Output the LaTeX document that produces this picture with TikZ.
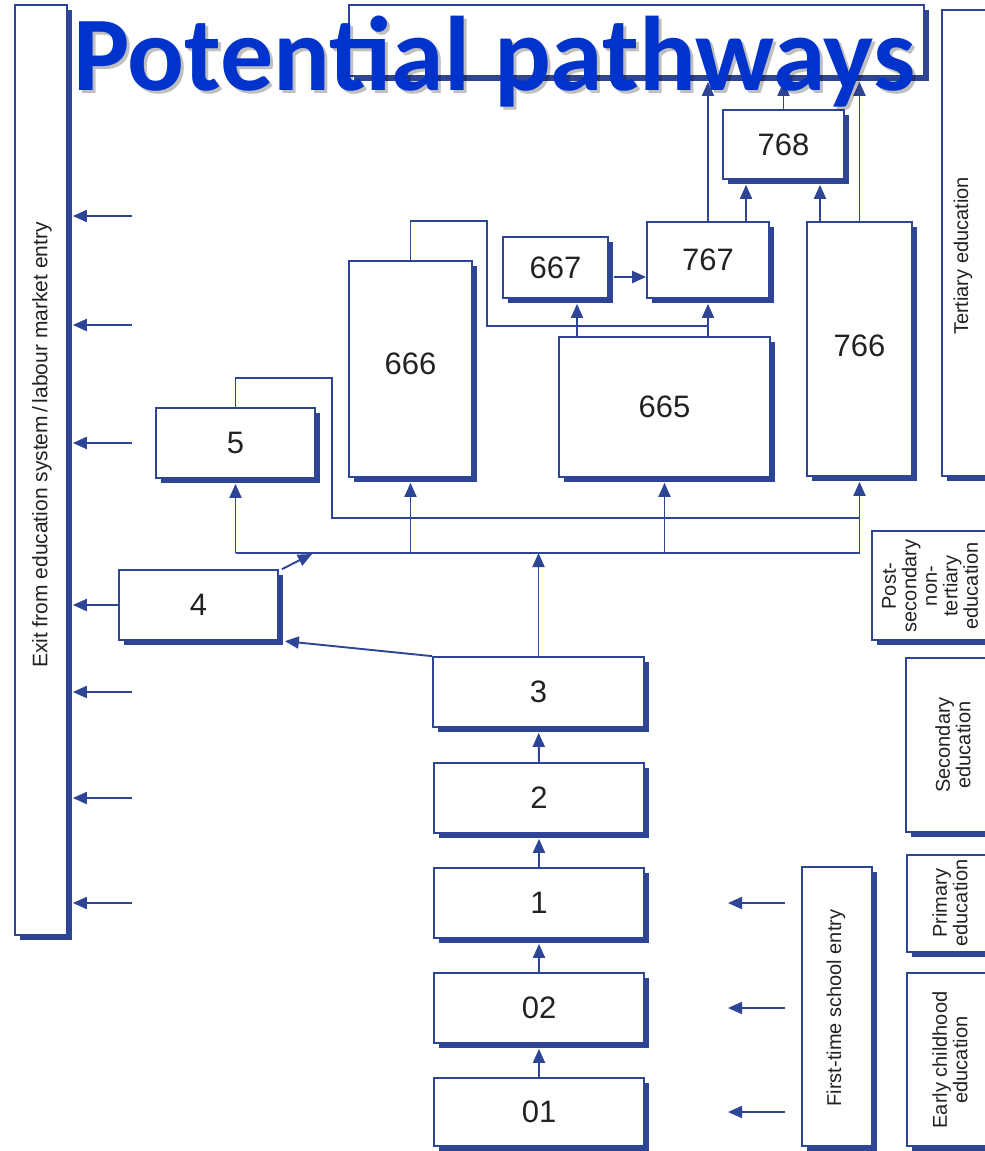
\documentclass[tikz,border=0pt]{standalone}
\usepackage{fontspec}
\setmainfont{Liberation Sans}
\newfontfamily\titlefam{Carlito}
\usetikzlibrary{arrows.meta,shadows}
\definecolor{ln}{HTML}{2E4595}
\definecolor{txt}{HTML}{222222}
\definecolor{ttlblue}{HTML}{0033CC}
\newcommand\placebox[6]{\node[box, minimum width={(#4-#2)*1pt}, minimum height={(#5-#3)*1pt}] (#1) at ({(#2+#4)/2},{(#3+#5)/2}) {#6};}
\begin{document}
\begin{tikzpicture}[x=1pt,y=-1pt,
  box/.style={draw=ln, line width=1.7pt, fill=white, inner sep=0pt,
    general shadow={fill=ln, shadow xshift=5pt, shadow yshift=-5pt},
    font=\fontsize{31}{33}\selectfont, text=txt},
  conn/.style={draw=ln, line width=1.9pt},
  arr/.style={conn, -{Triangle[length=14pt,width=12pt]}},
  arrb/.style={arr, shorten >=5pt},
  side/.style={font=\fontsize{20}{20.5}\selectfont, text=txt, align=center, rotate=90, inner sep=0pt},
]
\useasboundingbox (0,0) rectangle (985,1151);
\clip (0,0) rectangle (985,1151);
\fill[white] (0,0) rectangle (985,1151);

% boxes
\placebox{nexit}{15}{5}{67}{935}{}
\placebox{tbox}{349}{5}{924}{76}{}
\placebox{ntert}{942}{10}{1000}{476}{}
\placebox{n768}{723}{110}{844}{179}{768}
\placebox{n767}{647}{222}{769}{298}{767}
\placebox{n667}{503}{237}{608}{298}{667}
\placebox{n766}{807}{222}{912}{476}{\raisebox{6pt}{766}}
\placebox{n666}{349}{261}{472}{477}{\raisebox{11pt}{666}}
\placebox{n665}{559}{337}{770}{477}{665}
\placebox{n5}{156}{408}{315}{478}{5}
\placebox{n4}{119}{570}{278}{640}{4}
\placebox{n3}{433}{657}{644}{727}{3}
\placebox{n2}{434}{763}{644}{833}{2}
\placebox{n1}{434}{868}{644}{938}{1}
\placebox{n02}{434}{973}{644}{1043}{02}
\placebox{n01}{434}{1078}{644}{1146}{01}
\placebox{nfirst}{802}{867}{872}{1146}{}
\placebox{npost}{872}{531}{1000}{640}{}
\placebox{nsec}{906}{658}{1000}{832}{}
\placebox{nprim}{907}{855}{1000}{952}{}
\placebox{nearly}{907}{973}{1000}{1146}{}

% side labels
\node[side, font=\fontsize{21}{22}\selectfont] (lexit) at (42,445) {Exit from education system\,/\,labour market entry};
\node[side] (ltert) at (963,256) {Tertiary education};
\node[side] (lpost) at (930,586) {Post-\\secondary\\non-\\tertiary\\education};
\node[side] (lsec) at (953,745) {Secondary\\education};
\node[side] (lprim) at (950,903) {Primary\\education};
\node[side] (learly) at (950,1060) {Early childhood\\education};
\node[side] (lfirst) at (836,1008) {First-time school entry};

% helper coordinates
\coordinate (bus) at (0,553);
\coordinate (bus2) at (0,518);
\coordinate (l5) at (332,378);
\coordinate (l6) at (487,221);
\coordinate (l6b) at (487,326);
\coordinate (a667) at (577,0);
\coordinate (h67) at (0,277);
\coordinate (v768a) at (746,0);
\coordinate (v768b) at (820,0);
\coordinate (b4) at (312,554);
\coordinate (ex) at (132,0);
\coordinate (ex1) at (132,216);
\coordinate (ex2) at (132,325);
\coordinate (enS) at (785,0);
\coordinate (enT) at (728,0);

% vertical chain
\draw[arrb] (n01.north) -- (n02.south);
\draw[arrb] (n02.north) -- (n1.south);
\draw[arrb] (n1.north) -- (n2.south);
\draw[arrb] (n2.north) -- (n3.south);
\draw[arr] (n3.north) -- (n3.north |- bus);

% bus
\draw[conn] (n5.south |- bus) -- (n766.south |- bus);
\draw[arrb] (n5.south |- bus) -- (n5.south);
\draw[arrb] (n666.south |- bus) -- (n666.south);
\draw[arrb] (n665.south |- bus) -- (n665.south);
\draw[arrb] (n766.south |- bus) -- (n766.south);

% 3 -> 4, 4 -> bus
\draw[arr, shorten >=3pt] (n3.north west) -- ([xshift=3pt]n4.south east);
\draw[arr] ([xshift=3pt]n4.north east) -- (b4);

% loop from 5
\draw[conn] (n5.north) |- (l5) -- (l5 |- bus2) -- (n766.south |- bus2);

% loop from 666
\draw[conn] (n666.north) |- (l6) -- (l6b) -- (n767.south |- l6b);

% 665 up
\draw[arrb] (a667 |- n665.north) -- (a667 |- n667.south);
\draw[arrb] (n767.south |- n665.north) -- (n767.south);

% 667 -> 767
\draw[arr] ([xshift=5pt]n667.east |- h67) -- (n767.west |- h67);

% to 768
\draw[arrb] (v768a |- n767.north) -- (v768a |- n768.south);
\draw[arrb] (v768b |- n766.north) -- (v768b |- n768.south);

% to title box
\draw[arrb] (n767.north) -- (n767.north |- tbox.south);
\draw[arrb] (n768.north) -- (n768.north |- tbox.south);
\draw[arrb] (n766.north) -- (n766.north |- tbox.south);

% exits
\draw[arrb] (ex1) -- (nexit.east |- ex1);
\draw[arrb] (ex2) -- (nexit.east |- ex2);
\draw[arrb] (ex |- n5.west) -- (nexit.east |- n5.west);
\draw[arrb] (n4.west) -- (nexit.east |- n4.west);
\draw[arrb] (ex |- n3.west) -- (nexit.east |- n3.west);
\draw[arrb] (ex |- n2.west) -- (nexit.east |- n2.west);
\draw[arrb] (ex |- n1.west) -- (nexit.east |- n1.west);

% entries
\draw[arr] (enS |- n1.east) -- (enT |- n1.east);
\draw[arr] (enS |- n02.east) -- (enT |- n02.east);
\draw[arr] (enS |- n01.east) -- (enT |- n01.east);

% title (with soft shadow)
\node[anchor=base west, inner sep=0pt, text=black, opacity=0.25,
  font=\titlefam\bfseries\fontsize{106}{110}\selectfont] (ttlshadow) at (76,93) {Potential pathways};
\node[anchor=base west, inner sep=0pt, text=ttlblue,
  font=\titlefam\bfseries\fontsize{106}{110}\selectfont] (ttl) at (73,90) {Potential pathways};
\end{tikzpicture}
\end{document}
